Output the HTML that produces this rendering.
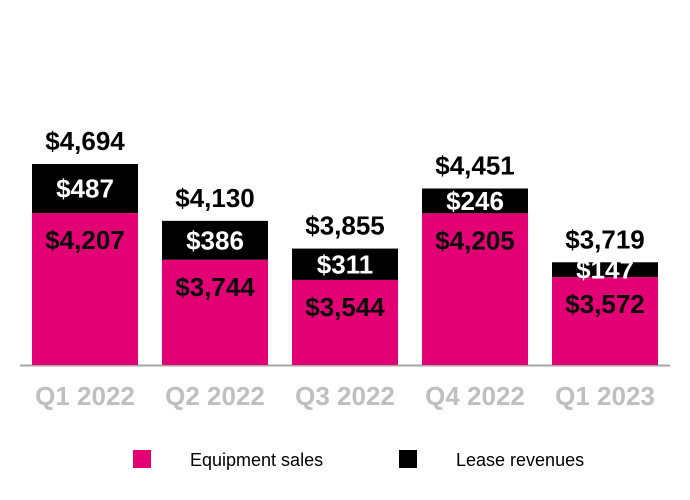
<!DOCTYPE html>
<html><head><meta charset="utf-8"><style>
html,body{margin:0;padding:0;background:#fff;width:690px;height:500px;overflow:hidden}
svg{display:block;font-family:"Liberation Sans",Arial,sans-serif}
</style></head><body>
<svg id="chart" width="690" height="500">
<line x1="20" y1="365.5" x2="670" y2="365.5" stroke="#a6a6a6" stroke-width="2"/>
<g id="bars"></g>
<g>
<rect x="133" y="450" width="18" height="18" fill="#e20074"/>
<text x="190" y="466" font-size="18" fill="#000">Equipment sales</text>
<rect x="399" y="450" width="18" height="18" fill="#000"/>
<text x="456" y="466" font-size="18" fill="#000">Lease revenues</text>
</g>
</svg>
<script>
const categories = ["Q1 2022","Q2 2022","Q3 2022","Q4 2022","Q1 2023"];
const equipment = [4207,3744,3544,4205,3572];
const lease = [487,386,311,246,147];
const yMin = 2700, yMax = 4700;
const baseY = 365, pxPerUnit = 0.1008;
const y = v => baseY - (v - yMin) * pxPerUnit;
const x = i => 32 + i * 130;
const bw = 106;
const fmt = v => "$" + v.toLocaleString("en-US");
const NS = "http://www.w3.org/2000/svg";
const g = document.getElementById("bars");
function mk(tag, attrs, txt){
  const e = document.createElementNS(NS, tag);
  for (const k in attrs) e.setAttribute(k, attrs[k]);
  if (txt !== undefined) e.textContent = txt;
  g.appendChild(e);
  return e;
}
categories.forEach((c, i) => {
  const total = equipment[i] + lease[i];
  const cx = x(i) + bw / 2;
  const r1 = mk("rect", {x: x(i), y: y(equipment[i]), width: bw, height: baseY - y(equipment[i]), fill: "#e20074"});
  
  
  const r2 = mk("rect", {x: x(i), y: y(total), width: bw, height: y(equipment[i]) - y(total), fill: "#000"});
  
  
  const t1 = mk("text", {x: cx, y: y(total) - 14, "text-anchor": "middle", "font-size": 26, "font-weight": "bold", fill: "#000"}, fmt(total));
  
  
  const segMid = (y(total) + y(equipment[i])) / 2;
  const t2 = mk("text", {x: cx, y: segMid + 9, "text-anchor": "middle", "font-size": 26, "font-weight": "bold", fill: "#fff"}, fmt(lease[i]));
  
  
  const t3 = mk("text", {x: cx, y: y(equipment[i]) + 36, "text-anchor": "middle", "font-size": 26, "font-weight": "bold", fill: "#0a0a0a"}, fmt(equipment[i]));
  
  
  const t4 = mk("text", {x: cx, y: 405, "text-anchor": "middle", "font-size": 26, "font-weight": "bold", fill: "#bfbfbf"}, c);
  
  
});
</script>
</body></html>
